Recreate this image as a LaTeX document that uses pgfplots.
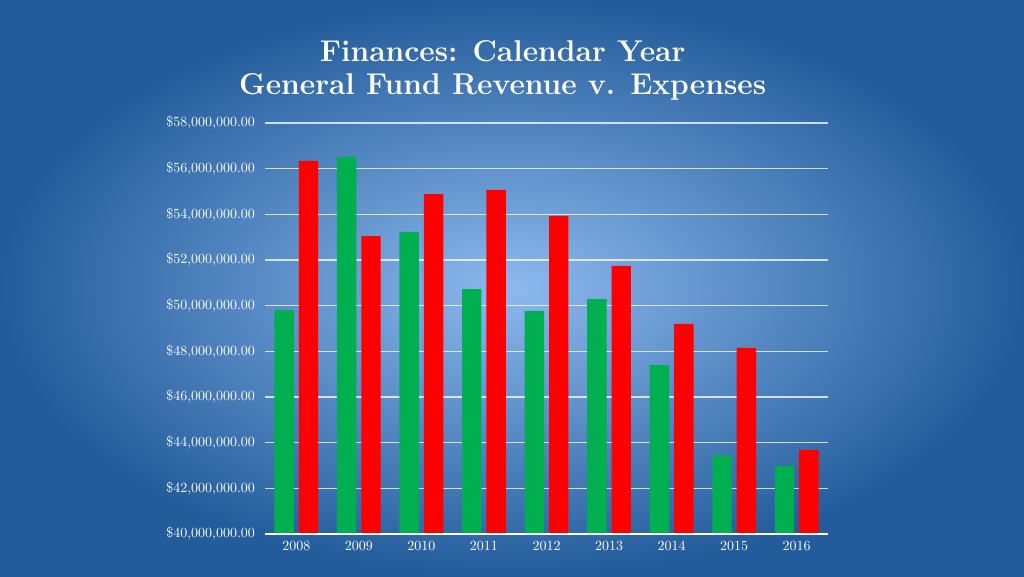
\documentclass[border=0pt]{standalone}
\usepackage{pgfplots}
\pgfplotsset{compat=1.18}
\definecolor{bgdark}{HTML}{235C9B}
\definecolor{bglight}{HTML}{8DB9EE}
\definecolor{revgreen}{HTML}{00B050}
\definecolor{expred}{HTML}{FF0000}
\begin{document}
\begin{tikzpicture}
% page background, 1024 x 576 px at 0.75pt per px
\fill[use as bounding box,inner color=bglight,outer color=bgdark] (0pt,0pt) rectangle (768pt,432pt);
\node[white,font=\bfseries\fontsize{22.5}{24.5}\selectfont,align=center] at (377pt,379pt)
  {Finances: Calendar Year\\General Fund Revenue v. Expenses};
\begin{axis}[at={(409.875pt,185.625pt)},anchor=center,scale only axis,
 width=422.25pt,height=308.25pt,
 xmin=-0.5,xmax=8.5,ymin=40,ymax=58,
 xtick={0,...,8},xticklabels={2008,2009,2010,2011,2012,2013,2014,2015,2016},
 ytick={40,42,...,58},
 yticklabels={{\$40,000,000.00},{\$42,000,000.00},{\$44,000,000.00},{\$46,000,000.00},{\$48,000,000.00},
  {\$50,000,000.00},{\$52,000,000.00},{\$54,000,000.00},{\$56,000,000.00},{\$58,000,000.00}},
 axis line style={draw=none},major tick style={draw=none},
 ymajorgrids=true,grid style={white,opacity=0.75,line width=1.2pt},
 tick label style={white,font=\fontsize{10.5}{12}\selectfont},
 yticklabel style={xshift=-4pt},
 xticklabel style={yshift=-2pt},
 clip=false]
\addplot[ybar,bar width=0.31,bar shift=-0.195,fill=revgreen,draw=none] coordinates {
 (0,49.81)(1,56.51)(2,53.23)(3,50.73)(4,49.77)(5,50.29)(6,47.40)(7,43.46)(8,42.98)};
\addplot[ybar,bar width=0.31,bar shift=0.195,fill=expred,draw=none] coordinates {
 (0,56.34)(1,53.05)(2,54.89)(3,55.07)(4,53.93)(5,51.74)(6,49.20)(7,48.15)(8,43.68)};
\draw[white,line width=1.2pt] (axis cs:-0.5,40)--(axis cs:8.5,40);
\end{axis}
\end{tikzpicture}
\end{document}
